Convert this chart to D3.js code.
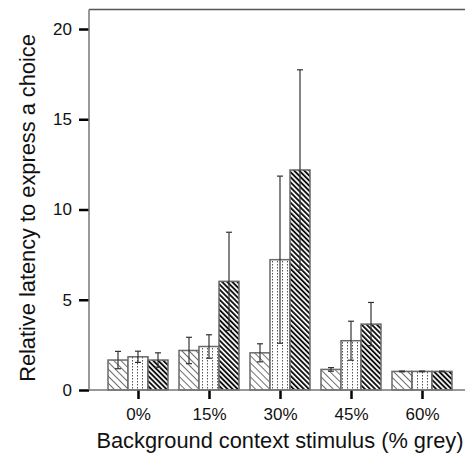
<!DOCTYPE html>
<html>
<head>
<meta charset="utf-8">
<script src="https://cdn.jsdelivr.net/npm/d3@7"></script>
<style>
  body { margin: 0; background: #fff; }
  svg { display: block; font-family: "Liberation Sans", Arial, sans-serif; }
</style>
</head>
<body>
<div class="canvas"></div>
<script>
// data
const categories = ['0%', '15%', '30%', '45%', '60%'];
const series = ['s1', 's2', 's3'];
const means1 = [1.66, 2.19, 2.06, 1.14, 1.03];
const means2 = [1.84, 2.41, 7.22, 2.73, 1.03];
const means3 = [1.66, 6.02, 12.19, 3.65, 1.03];
const err1 = [0.48, 0.73, 0.5, 0.1, 0.02];
const err2 = [0.31, 0.65, 4.63, 1.08, 0.02];
const err3 = [0.4, 2.72, 5.55, 1.2, 0.02];
const yTicks = [0, 5, 10, 15, 20];

const width = 465, height = 456;
const plot = {left: 89, right: 465, top: 9.5, bottom: 390};

const svg = d3.select('.canvas')
  .append('svg')
  .attr('width', width)
  .attr('height', height);

// patterns
const defs = svg.append('defs');

const p1 = defs.append('pattern')
  .attr('id', 'hatch1')
  .attr('patternUnits', 'userSpaceOnUse')
  .attr('width', 5).attr('height', 5)
  .attr('patternTransform', 'rotate(-45)');
p1.append('rect').attr('width', 5).attr('height', 5).attr('fill', '#fff');
p1.append('line').attr('x1', 0).attr('x2', 0).attr('y1', 0).attr('y2', 5)
  .attr('stroke', '#222').attr('stroke-width', 1.3);

const p2 = defs.append('pattern')
  .attr('id', 'dots2')
  .attr('patternUnits', 'userSpaceOnUse')
  .attr('width', 5).attr('height', 3);
p2.append('rect').attr('width', 5).attr('height', 3).attr('fill', '#fff');
p2.append('rect').attr('x', 2).attr('y', 0).attr('width', 1).attr('height', 1.5)
  .attr('fill', '#555');

const p3 = defs.append('pattern')
  .attr('id', 'hatch3')
  .attr('patternUnits', 'userSpaceOnUse')
  .attr('width', 3.6).attr('height', 3.6)
  .attr('patternTransform', 'rotate(-45)');
p3.append('rect').attr('width', 3.6).attr('height', 3.6).attr('fill', '#fff');
p3.append('line').attr('x1', 0.9).attr('x2', 0.9).attr('y1', 0).attr('y2', 3.6)
  .attr('stroke', '#111').attr('stroke-width', 2);

const fills = {s1: 'url(#hatch1)', s2: 'url(#dots2)', s3: 'url(#hatch3)'};

// scales
const x = d3.scalePoint()
  .domain(categories)
  .range([138, 422]);

const xSub = d3.scaleBand()
  .domain(series)
  .range([-30, 30]);

const y = d3.scaleLinear()
  .domain([0, 20])
  .range([plot.bottom, 29]);

// rows
const rows = [];
categories.forEach((c, i) => {
  rows.push({cat: c, s: 's1', v: means1[i], e: err1[i]});
  rows.push({cat: c, s: 's2', v: means2[i], e: err2[i]});
  rows.push({cat: c, s: 's3', v: means3[i], e: err3[i]});
});

// frame: top line
svg.append('line')
  .attr('x1', plot.left).attr('x2', plot.right)
  .attr('y1', plot.top).attr('y2', plot.top)
  .attr('stroke', '#555').attr('stroke-width', 1.5);

// bars
const graph = svg.append('g');

graph.selectAll('.bar')
  .data(rows)
  .enter()
  .append('rect')
    .attr('class', 'bar')
    .attr('x', d => x(d.cat) + xSub(d.s))
    .attr('width', xSub.bandwidth())
    .attr('y', d => y(d.v))
    .attr('height', d => y(0) - y(d.v))
    .attr('fill', d => fills[d.s])
    .attr('stroke', '#6a6a6a')
    .attr('stroke-width', 1.5);

// error bars
const errG = graph.selectAll('.err')
  .data(rows)
  .enter()
  .append('g')
    .attr('class', 'err')
    .attr('transform', d => `translate(${x(d.cat) + xSub(d.s) + xSub.bandwidth() / 2},0)`);

errG.append('line')
  .attr('y1', d => y(d.v - d.e))
  .attr('y2', d => y(d.v + d.e))
  .attr('stroke', '#333').attr('stroke-width', 1.2);

errG.append('line')
  .attr('x1', -3).attr('x2', 3)
  .attr('y1', d => y(d.v + d.e)).attr('y2', d => y(d.v + d.e))
  .attr('stroke', '#333').attr('stroke-width', 1.2);

errG.append('line')
  .attr('x1', -3).attr('x2', 3)
  .attr('y1', d => y(d.v - d.e)).attr('y2', d => y(d.v - d.e))
  .attr('stroke', '#333').attr('stroke-width', 1.2);

// y axis
const yAxis = d3.axisLeft(y).tickValues(yTicks).tickSize(10).tickPadding(7);
const yG = svg.append('g')
  .attr('transform', `translate(${plot.left},0)`)
  .call(yAxis);
yG.select('.domain').remove();
yG.append('line')
  .attr('x1', 0).attr('x2', 0)
  .attr('y1', plot.top).attr('y2', plot.bottom)
  .attr('stroke', '#777').attr('stroke-width', 1.5);
yG.selectAll('.tick line').attr('stroke', '#000').attr('stroke-width', 2.5);
yG.selectAll('.tick text')
  .attr('font-size', 17)
  .attr('font-family', '"Liberation Sans", Arial, sans-serif')
  .attr('fill', '#111');

// x axis
const xAxis = d3.axisBottom(x).tickSize(9).tickPadding(9);
const xG = svg.append('g')
  .attr('transform', `translate(0,${plot.bottom})`)
  .call(xAxis);
xG.select('.domain').remove();
xG.append('line')
  .attr('x1', plot.left).attr('x2', plot.right)
  .attr('y1', 0).attr('y2', 0)
  .attr('stroke', '#777').attr('stroke-width', 1.5);
xG.selectAll('.tick line').attr('stroke', '#000').attr('stroke-width', 2.5);
xG.selectAll('.tick text')
  .attr('font-size', 17)
  .attr('font-family', '"Liberation Sans", Arial, sans-serif')
  .attr('fill', '#111');

// axis titles
svg.append('text')
  .attr('x', 280)
  .attr('y', 448)
  .attr('text-anchor', 'middle')
  .attr('font-size', 21.8)
  .attr('fill', '#111')
  .text('Background context stimulus (% grey)');

svg.append('text')
  .attr('transform', 'translate(35,208) rotate(-90)')
  .attr('text-anchor', 'middle')
  .attr('font-size', 21.8)
  .attr('fill', '#111')
  .text('Relative latency to express a choice');
</script>
</body>
</html>
